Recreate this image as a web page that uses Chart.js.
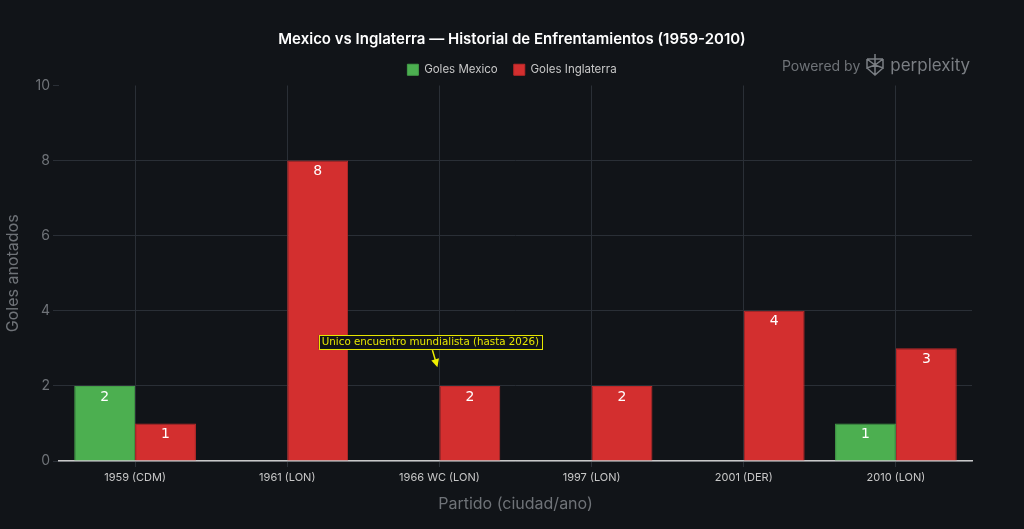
<!DOCTYPE html>
<html>
<head>
<meta charset="utf-8">
<script src="https://cdn.jsdelivr.net/npm/chart.js@4.4.1/dist/chart.umd.min.js"></script>
<style>
  html, body { margin: 0; padding: 0; background: #111418; }
  #wrap { position: relative; width: 1024px; height: 529px; }
  #brand {
    position: absolute; left: 782px; top: 53px;
    font-family: Inter, "Noto Sans", sans-serif; color: #6f7378;
    font-size: 14px; display: flex; align-items: center; gap: 4px;
  }
  #brand .name { font-size: 17px; color: #7a7e83; }
</style>
</head>
<body>
<div id="wrap">
  <canvas id="chart" width="1024" height="529"></canvas>
  <div id="brand"><span>Powered by</span>
    <svg width="22" height="24" viewBox="0 0 22 24" fill="none" stroke="#7a7e83" stroke-width="1.5">
      <path d="M11 1v22M3 6l8 6 8-6M3 6v9l8-3 8 3V6M3 15l8 7 8-7M3 6h16"/>
    </svg>
    <span class="name">perplexity</span></div>
</div>
<script>
const partidos = ['1959 (CDM)', '1961 (LON)', '1966 WC (LON)', '1997 (LON)', '2001 (DER)', '2010 (LON)'];
const golesMexico = [2, 0, 0, 0, 0, 1];
const golesInglaterra = [1, 8, 2, 2, 4, 3];
const yTicks = [0, 2, 4, 6, 8, 10];
const nota = { index: 2, text: 'Unico encuentro mundialista (hasta 2026)', arrowTo: 2.5 };

const gridColor = '#2a2f36';

const barLabels = {
  id: 'barLabels',
  afterDatasetsDraw(chart) {
    const ctx = chart.ctx;
    ctx.save();
    ctx.font = '14px "DejaVu Sans", sans-serif';
    ctx.fillStyle = '#ffffff';
    ctx.textAlign = 'center';
    ctx.textBaseline = 'middle';
    chart.data.datasets.forEach((ds, di) => {
      chart.getDatasetMeta(di).data.forEach((bar, i) => {
        const v = ds.data[i];
        if (!v) return;
        ctx.fillText(String(v), bar.x, bar.y + 11);
      });
    });
    ctx.restore();
  }
};

const anotacion = {
  id: 'anotacion',
  afterDatasetsDraw(chart) {
    const ctx = chart.ctx;
    const xs = chart.scales.x, ys = chart.scales.y;
    const cx = xs.getPixelForValue(nota.index) - 9;
    const tipX = xs.getPixelForValue(nota.index) - 2;
    const tipY = ys.getPixelForValue(nota.arrowTo);
    const boxY = ys.getPixelForValue(nota.arrowTo) - 25;
    ctx.save();
    ctx.font = '10.3px "DejaVu Sans", sans-serif';
    const w = ctx.measureText(nota.text).width + 6;
    ctx.fillStyle = '#111418';
    ctx.fillRect(cx - w / 2, boxY - 7, w, 14);
    ctx.strokeStyle = '#e6e600';
    ctx.lineWidth = 1;
    ctx.strokeRect(Math.round(cx - w / 2) + 0.5, Math.round(boxY - 7) + 0.5, Math.round(w), 14);
    ctx.fillStyle = '#e6e600';
    ctx.textAlign = 'center';
    ctx.textBaseline = 'middle';
    ctx.fillText(nota.text, cx, boxY + 0.5);
    // flecha
    const sx = cx + 2, sy = boxY + 8;
    const ang = Math.atan2(tipY - sy, tipX - sx);
    ctx.strokeStyle = '#f0f000';
    ctx.lineWidth = 1.5;
    ctx.beginPath();
    ctx.moveTo(sx, sy);
    ctx.lineTo(tipX - 6 * Math.cos(ang), tipY - 6 * Math.sin(ang));
    ctx.stroke();
    ctx.fillStyle = '#f0f000';
    ctx.beginPath();
    ctx.moveTo(tipX, tipY);
    ctx.lineTo(tipX - 8 * Math.cos(ang) + 4 * Math.sin(ang), tipY - 8 * Math.sin(ang) - 4 * Math.cos(ang));
    ctx.lineTo(tipX - 8 * Math.cos(ang) - 4 * Math.sin(ang), tipY - 8 * Math.sin(ang) + 4 * Math.cos(ang));
    ctx.closePath();
    ctx.fill();
    ctx.restore();
  }
};

Chart.defaults.font.family = 'Inter, "Noto Sans", sans-serif';
Chart.defaults.color = '#8a8d91';

new Chart(document.getElementById('chart'), {
  type: 'bar',
  data: {
    labels: partidos,
    datasets: [
      { label: 'Goles Mexico', data: golesMexico, backgroundColor: '#4caf50', borderColor: '#449e48', borderWidth: 1 },
      { label: 'Goles Inglaterra', data: golesInglaterra, backgroundColor: '#d32f2f', borderColor: '#bd2a2a', borderWidth: 1 }
    ]
  },
  options: {
    responsive: false,
    animation: false,
    layout: { padding: { top: 21, right: 0, bottom: 11, left: 0 } },
    plugins: {
      title: {
        display: true,
        text: 'Mexico vs Inglaterra \u2014 Historial de Enfrentamientos (1959-2010)',
        color: '#ffffff',
        font: { size: 15, weight: '600' },
        padding: { top: 9, bottom: 0 }
      },
      legend: {
        display: true,
        labels: { color: '#c8c8c8', boxWidth: 11, boxHeight: 11, font: { size: 11.5 }, padding: 16 }
      },
      tooltip: { enabled: false }
    },
    datasets: { bar: { categoryPercentage: 0.8, barPercentage: 1.0 } },
    scales: {
      x: {
        grid: { color: gridColor, offset: false, tickLength: 6 },
        border: { color: '#c8c8c8', width: 1.5 },
        ticks: { color: '#c8c8c8', font: { size: 11 }, padding: 4 },
        title: { display: true, text: 'Partido (ciudad/ano)', color: '#6f7378', font: { size: 16 }, padding: { top: 12 } },
        afterFit(s) { s.height = 57; }
      },
      y: {
        min: 0, max: 10,
        afterBuildTicks(s) { s.ticks = yTicks.map(v => ({ value: v })); },
        grid: {
          color: c => (c.tick && c.tick.value === 10) ? 'transparent' : gridColor,
          tickColor: gridColor, tickLength: 6
        },
        border: { display: false },
        ticks: { color: '#6f7378', font: { size: 14 }, padding: 3 },
        title: { display: true, text: 'Goles anotados', color: '#6f7378', font: { size: 16 }, padding: { bottom: 6 } },
        afterFit(s) { s.width = 59; }
      },
      margen: {
        type: 'linear', position: 'right', min: 0, max: 1,
        grid: { display: false }, ticks: { display: false }, border: { display: false },
        afterFit(s) { s.width = 52; }
      }
    }
  },
  plugins: [barLabels, anotacion]
});
</script>
</body>
</html>
